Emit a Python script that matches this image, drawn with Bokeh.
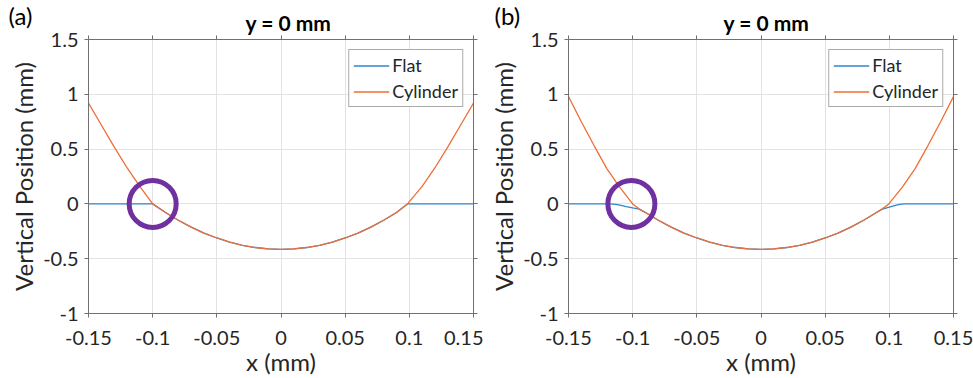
from bokeh.plotting import figure
from bokeh.layouts import row
from bokeh.models import (FixedTicker, LinearAxis, Range1d, Legend, LegendItem, Title,
                          CustomLabelingPolicy)
from bokeh.embed import file_html
from bokeh.resources import INLINE

x_ticks = [-0.15, -0.1, -0.05, 0, 0.05, 0.1, 0.15]
x_tick_labels = ["-0.15", "-0.1", "-0.05", "0", "0.05", "0.1", "0.15"]
y_ticks = [-1, -0.5, 0, 0.5, 1, 1.5]
y_tick_labels = ["-1", "-0.5", "0", "0.5", "1", "1.5"]

panel_labels = ["(a)", "(b)"]
panel_titles = ["y = 0 mm", "y = 0 mm"]
series_names = ["Flat", "Cylinder"]

mid_x = [-0.09, -0.08, -0.07, -0.06, -0.05, -0.04, -0.03, -0.02, -0.01, 0.0,
         0.01, 0.02, 0.03, 0.04, 0.05, 0.06, 0.07, 0.08, 0.09]
mid_y = [-0.079, -0.149, -0.212, -0.266, -0.311, -0.349, -0.378, -0.398, -0.411, -0.415,
         -0.411, -0.398, -0.378, -0.349, -0.311, -0.266, -0.212, -0.149, -0.079]

# Panel (a)
a_cyl_x = [-0.15, -0.14, -0.13, -0.12, -0.11, -0.10] + mid_x + [0.0985, 0.11, 0.12, 0.13, 0.14, 0.15]
a_cyl_y = [0.92, 0.72, 0.52, 0.33, 0.16, 0.0] + mid_y + [0.0, 0.16, 0.33, 0.52, 0.72, 0.92]
a_flat_x = [-0.15, -0.10] + mid_x + [0.0985, 0.15]
a_flat_y = [0.0, 0.0] + mid_y + [0.0, 0.0]

# Panel (b)
b_cyl_x = [-0.15, -0.14, -0.13, -0.12, -0.11, -0.10, -0.095] + mid_x + [0.094, 0.0996, 0.11, 0.12, 0.13, 0.14, 0.15]
b_cyl_y = [0.98, 0.75, 0.53, 0.32, 0.15, 0.0, -0.045] + mid_y + [-0.05, 0.0, 0.15, 0.32, 0.53, 0.75, 0.98]
b_flat_x = [-0.15, -0.118, -0.113, -0.109, -0.105, -0.1, -0.095] + mid_x + [0.094, 0.1, 0.104, 0.108, 0.112, 0.15]
b_flat_y = [0.0, 0.0, -0.004, -0.014, -0.025, -0.037, -0.048] + mid_y + [-0.05, -0.03, -0.015, -0.005, 0.0, 0.0]

circle_x = [-0.1, -0.101]
circle_y = [0.0, 0.0]

FLAT_COLOR = "#2f86cf"
CYL_COLOR = "#ee6e35"
TEXT = "#262626"
AXIS = "#707070"
FONT = "Lato"

HIDE_LABELS = "for (const i of indices) { indices.unset(i) }\nreturn indices"


def make_panel(idx, fx, fy, cx, cy, width, left, right, label_off, title_off):
    p = figure(width=width, height=378, output_backend="svg", toolbar_location=None,
               x_range=Range1d(-0.15, 0.15), y_range=Range1d(-1, 1.5),
               min_border_left=left, min_border_right=right, min_border_top=39, min_border_bottom=64,
               x_axis_label="x (mm)", y_axis_label="Vertical Position (mm)")
    p.background_fill_color = "white"
    p.border_fill_color = "white"
    p.outline_line_color = AXIS
    p.outline_line_width = 1

    p.xaxis.ticker = FixedTicker(ticks=x_ticks)
    p.yaxis.ticker = FixedTicker(ticks=y_ticks)
    p.xaxis.major_label_overrides = {t: l for t, l in zip(x_ticks, x_tick_labels)}
    p.yaxis.major_label_overrides = {t: l for t, l in zip(y_ticks, y_tick_labels)}
    for ax in (p.xaxis, p.yaxis):
        ax.major_label_text_font = FONT
        ax.major_label_text_font_size = "20px"
        ax.major_label_text_color = TEXT
        ax.axis_label_text_font = FONT
        ax.axis_label_text_font_size = "24px"
        ax.axis_label_text_font_style = "normal"
        ax.axis_label_text_color = TEXT
        ax.axis_line_color = AXIS
        ax.major_tick_line_color = AXIS
        ax.major_tick_in = 0
        ax.major_tick_out = 4
        ax.minor_tick_line_color = None
    p.xaxis.major_label_standoff = 13
    p.xaxis.axis_label_standoff = -1
    p.yaxis.major_label_standoff = 6
    p.yaxis.axis_label_standoff = 2

    # frame ticks on the top and right sides (no labels)
    for ticks, side, st in ((x_ticks, "above", 3), (y_ticks, "right", 0)):
        ax = LinearAxis(ticker=FixedTicker(ticks=ticks), major_label_text_font_size="1px",
                        major_label_standoff=st, major_tick_in=0, major_tick_out=4,
                        major_label_policy=CustomLabelingPolicy(code=HIDE_LABELS),
                        axis_line_color=AXIS, major_tick_line_color=AXIS, minor_tick_line_color=None)
        p.add_layout(ax, side)

    # bold title and panel letter share one row (overlapping title slots)
    p.add_layout(Title(text=panel_titles[idx], align="left", vertical_align="middle",
                       offset=title_off, standoff=-14,
                       text_font=FONT, text_font_size="21px", text_font_style="bold",
                       text_color="black"), "above")
    p.title = Title(text=panel_labels[idx], align="left", vertical_align="middle",
                    offset=label_off, standoff=-42,
                    text_font=FONT, text_font_size="24px", text_font_style="normal",
                    text_color="black")

    p.xgrid.grid_line_color = "#e3e3e3"
    p.ygrid.grid_line_color = "#e3e3e3"

    r1 = p.line(fx, fy, line_color=FLAT_COLOR, line_width=1.3)
    r2 = p.line(cx, cy, line_color=CYL_COLOR, line_width=1.3)

    p.scatter([circle_x[idx]], [circle_y[idx]], marker="circle", size=47,
              fill_alpha=0, line_color="#7030A0", line_width=5)

    legend = Legend(items=[LegendItem(label=series_names[0], renderers=[r1]),
                           LegendItem(label=series_names[1], renderers=[r2])],
                    location="top_right", margin=10, padding=4, spacing=4,
                    glyph_width=36, glyph_height=21, label_standoff=3,
                    label_text_font=FONT, label_text_font_size="18px", label_text_color=TEXT,
                    border_line_color="#555555", border_line_width=1,
                    background_fill_color="white", background_fill_alpha=1)
    p.add_layout(legend)
    return p


pa = make_panel(0, a_flat_x, a_flat_y, a_cyl_x, a_cyl_y, 483, 88, 10, -80, 157)
pb = make_panel(1, b_flat_x, b_flat_y, b_cyl_x, b_cyl_y, 490, 85, 20, -74, 155)

layout = row(pa, pb)
open("out.html", "w").write(file_html(layout, INLINE))
